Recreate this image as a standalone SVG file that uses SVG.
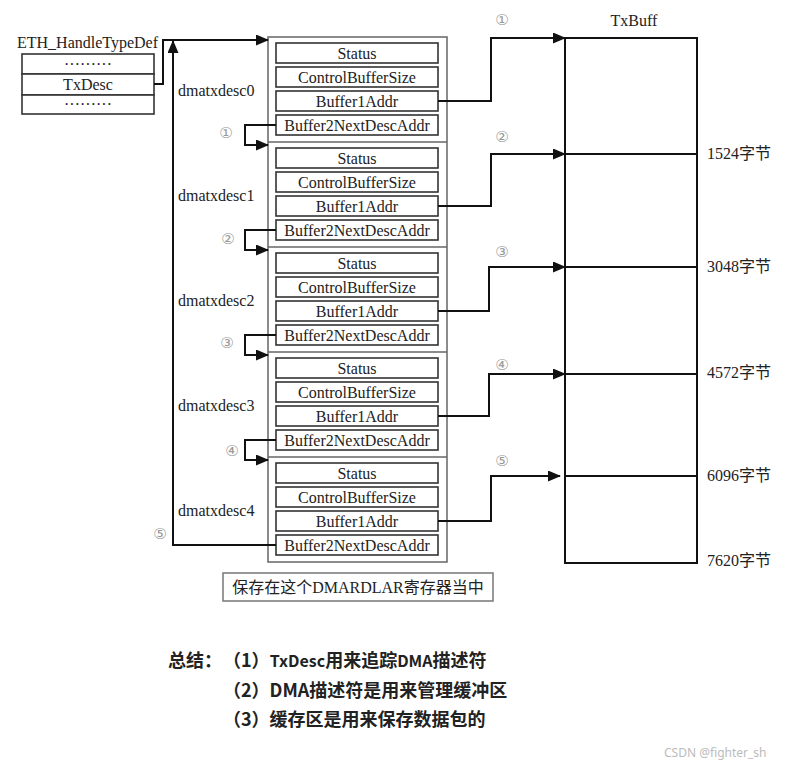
<svg xmlns="http://www.w3.org/2000/svg" width="789" height="767" viewBox="0 0 789 767">
<style>
.t{font-family:"Liberation Serif","Noto Sans CJK SC",serif;font-size:16px;fill:#222}
.c{text-anchor:middle;dominant-baseline:central}
.cn{font-family:"DejaVu Sans","Noto Sans CJK SC",sans-serif;font-size:15px;fill:#999;text-anchor:middle;dominant-baseline:central}
.fld{fill:#fff;stroke:#333;stroke-width:1.6}
.outer{fill:#fff;stroke:#666;stroke-width:1.5}
.sep{stroke:#666;stroke-width:1.5}
.ln{fill:none;stroke:#111;stroke-width:2}
.arr{fill:none;stroke:#111;stroke-width:2;marker-end:url(#ah)}
.sum{font-family:"Noto Sans CJK SC","Noto Sans",sans-serif;font-size:18px;font-weight:bold;fill:#222}
.sm{font-size:16px}
</style>
<defs>
<marker id="ah" markerUnits="userSpaceOnUse" markerWidth="13" markerHeight="11" refX="12" refY="5.5" orient="auto">
<path d="M0,0 L13,5.5 L0,11 z" fill="#111"/>
</marker>
</defs>
<rect width="789" height="767" fill="#fff"/>

<g id="eth">
<text class="t" x="17" y="48">ETH_HandleTypeDef</text>
<rect class="fld" x="22" y="54" width="132" height="20"/>
<rect class="fld" x="22" y="74" width="132" height="21"/>
<rect class="fld" x="22" y="95" width="132" height="19"/>
<text class="t c" x="88" y="64">·········</text>
<text class="t c" x="88" y="84">TxDesc</text>
<text class="t c" x="88" y="104">·········</text>
</g>

<g id="descs">
<rect class="outer" x="268" y="37" width="179" height="525"/>
<line class="sep" x1="268" y1="142" x2="447" y2="142"/>
<line class="sep" x1="268" y1="247" x2="447" y2="247"/>
<line class="sep" x1="268" y1="352" x2="447" y2="352"/>
<line class="sep" x1="268" y1="457" x2="447" y2="457"/>
</g>

<g id="dmatxdesc0">
<text class="t" x="178" y="96">dmatxdesc0</text>
<rect class="fld" x="276" y="43" width="162" height="20"/><text class="t c" x="357" y="53">Status</text>
<rect class="fld" x="276" y="67" width="162" height="20"/><text class="t c" x="357" y="77">ControlBufferSize</text>
<rect class="fld" x="276" y="91" width="162" height="20"/><text class="t c" x="357" y="101">Buffer1Addr</text>
<rect class="fld" x="276" y="115" width="162" height="20"/><text class="t c" x="357" y="125">Buffer2NextDescAddr</text>
</g>
<g id="dmatxdesc1">
<text class="t" x="178" y="201">dmatxdesc1</text>
<rect class="fld" x="276" y="148" width="162" height="20"/><text class="t c" x="357" y="158">Status</text>
<rect class="fld" x="276" y="172" width="162" height="20"/><text class="t c" x="357" y="182">ControlBufferSize</text>
<rect class="fld" x="276" y="196" width="162" height="20"/><text class="t c" x="357" y="206">Buffer1Addr</text>
<rect class="fld" x="276" y="220" width="162" height="20"/><text class="t c" x="357" y="230">Buffer2NextDescAddr</text>
</g>
<g id="dmatxdesc2">
<text class="t" x="178" y="306">dmatxdesc2</text>
<rect class="fld" x="276" y="253" width="162" height="20"/><text class="t c" x="357" y="263">Status</text>
<rect class="fld" x="276" y="277" width="162" height="20"/><text class="t c" x="357" y="287">ControlBufferSize</text>
<rect class="fld" x="276" y="301" width="162" height="20"/><text class="t c" x="357" y="311">Buffer1Addr</text>
<rect class="fld" x="276" y="325" width="162" height="20"/><text class="t c" x="357" y="335">Buffer2NextDescAddr</text>
</g>
<g id="dmatxdesc3">
<text class="t" x="178" y="411">dmatxdesc3</text>
<rect class="fld" x="276" y="358" width="162" height="20"/><text class="t c" x="357" y="368">Status</text>
<rect class="fld" x="276" y="382" width="162" height="20"/><text class="t c" x="357" y="392">ControlBufferSize</text>
<rect class="fld" x="276" y="406" width="162" height="20"/><text class="t c" x="357" y="416">Buffer1Addr</text>
<rect class="fld" x="276" y="430" width="162" height="20"/><text class="t c" x="357" y="440">Buffer2NextDescAddr</text>
</g>
<g id="dmatxdesc4">
<text class="t" x="178" y="516">dmatxdesc4</text>
<rect class="fld" x="276" y="463" width="162" height="20"/><text class="t c" x="357" y="473">Status</text>
<rect class="fld" x="276" y="487" width="162" height="20"/><text class="t c" x="357" y="497">ControlBufferSize</text>
<rect class="fld" x="276" y="511" width="162" height="20"/><text class="t c" x="357" y="521">Buffer1Addr</text>
<rect class="fld" x="276" y="535" width="162" height="20"/><text class="t c" x="357" y="545">Buffer2NextDescAddr</text>
</g>

<g id="txbuff">
<text class="t c" x="634" y="20">TxBuff</text>
<rect x="565" y="38" width="132" height="525" fill="none" stroke="#111" stroke-width="2"/>
<line x1="565" y1="154" x2="697" y2="154" stroke="#111" stroke-width="2"/>
<line x1="565" y1="267" x2="697" y2="267" stroke="#111" stroke-width="2"/>
<line x1="565" y1="374" x2="697" y2="374" stroke="#111" stroke-width="2"/>
<line x1="565" y1="476" x2="697" y2="476" stroke="#111" stroke-width="2"/>
<text class="t" x="707" y="159">1524字节</text>
<text class="t" x="707" y="272">3048字节</text>
<text class="t" x="707" y="378">4572字节</text>
<text class="t" x="707" y="481">6096字节</text>
<text class="t" x="707" y="566">7620字节</text>
</g>

<g id="connectors">
<path class="ln" d="M154,84 H163 V40"/>
<path class="arr" d="M162,40 H268"/>
<path class="arr" d="M276,545 H173 V41"/>
<path class="arr" d="M276,125 H245 V145 H268"/>
<path class="arr" d="M276,230 H245 V250 H268"/>
<path class="arr" d="M276,335 H245 V355 H268"/>
<path class="arr" d="M276,440 H245 V460 H268"/>
<path class="arr" d="M438,101 H491 V38 H565"/>
<path class="arr" d="M438,206 H491 V154 H565"/>
<path class="arr" d="M438,311 H489 V267 H565"/>
<path class="arr" d="M438,416 H489 V374 H565"/>
<path class="arr" d="M438,521 H491 V476 H560"/>
</g>

<g id="nums">
<text class="cn" x="226" y="133">①</text>
<text class="cn" x="228" y="239">②</text>
<text class="cn" x="227" y="343">③</text>
<text class="cn" x="232" y="451">④</text>
<text class="cn" x="160" y="534">⑤</text>
<text class="cn" x="502" y="20">①</text>
<text class="cn" x="502" y="137">②</text>
<text class="cn" x="502" y="252">③</text>
<text class="cn" x="502" y="365">④</text>
<text class="cn" x="502" y="461">⑤</text>
</g>

<g id="dmardlar">
<rect x="223" y="573" width="270" height="28" fill="#fff" stroke="#777" stroke-width="1.5"/>
<text class="t c" x="358" y="587" fill="#444">保存在这个DMARDLAR寄存器当中</text>
</g>

<g id="summary">
<text class="sum" x="168" y="667">总结：</text>
<text class="sum" x="223" y="667">（1）<tspan class="sm">TxDesc</tspan>用来追踪<tspan class="sm">DMA</tspan>描述符</text>
<text class="sum" x="223" y="697">（2）DMA描述符是用来管理缓冲区</text>
<text class="sum" x="223" y="726">（3）缓存区是用来保存数据包的</text>
</g>

<text x="664" y="757" font-family="'Noto Sans',sans-serif" font-size="12" fill="#bbb">CSDN @fighter_sh</text>
</svg>
